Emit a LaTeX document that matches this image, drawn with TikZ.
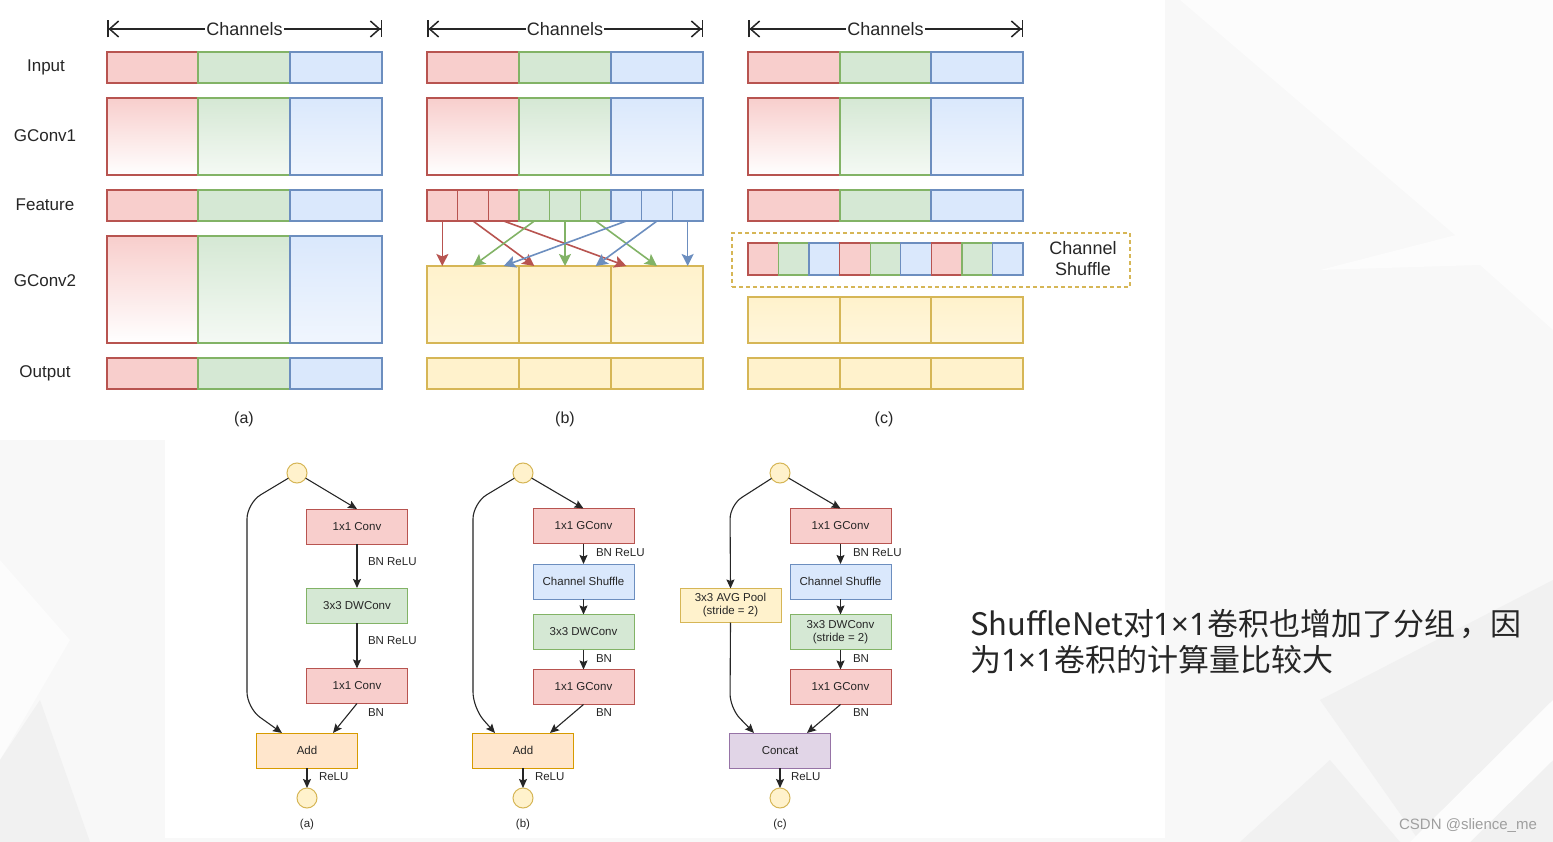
\documentclass[tikz,border=0pt]{standalone}
\usepackage{fontspec}
\setmainfont{Liberation Sans}
\newfontfamily\cjk{Noto Sans CJK SC}
\newfontfamily\lat{Noto Sans}
\usetikzlibrary{arrows.meta,calc}
\definecolor{rf}{HTML}{F8CECC}\definecolor{rs}{HTML}{B85450}
\definecolor{gf}{HTML}{D5E8D4}\definecolor{gs}{HTML}{82B366}
\definecolor{bf}{HTML}{DAE8FC}\definecolor{bs}{HTML}{6C8EBF}
\definecolor{yf}{HTML}{FFF2CC}\definecolor{ys}{HTML}{D6B656}
\definecolor{of}{HTML}{FFE6CC}\definecolor{os}{HTML}{D79B00}
\definecolor{pf}{HTML}{E1D5E7}\definecolor{ps}{HTML}{9673A6}
\definecolor{txt}{HTML}{262626}
\definecolor{bg0}{HTML}{F8F8F8}\definecolor{bgL}{HTML}{FCFCFC}\definecolor{bgD}{HTML}{F1F1F1}
\newcommand{\bx}[6]{\node[#6,anchor=north west,minimum width={(#4-#2)*1pt},minimum height={(#5-#3)*1pt}] (#1) at (#2,#3) {};}
\begin{document}
\begin{tikzpicture}[x=1pt,y=-1pt,
  every node/.style={inner sep=0pt,outer sep=0pt},
  cell/.style={line width=1.3pt},
  R/.style={cell,draw=rs,fill=rf},
  G/.style={cell,draw=gs,fill=gf},
  B/.style={cell,draw=bs,fill=bf},
  Y/.style={cell,draw=ys,fill=yf},
  RG/.style={cell,draw=rs,top color=rf,bottom color=white},
  GG/.style={cell,draw=gs,top color=gf,bottom color=gf!25},
  BG/.style={cell,draw=bs,top color=bf,bottom color=bf!40},
  YG/.style={cell,draw=ys,top color=yf,bottom color=yf!70},
  lab/.style={font=\fontsize{17}{20}\selectfont,text=txt},
  plab/.style={font=\fontsize{16}{19}\selectfont,text=txt},
  chlab/.style={font=\fontsize{18}{20}\selectfont,text=txt,fill=white,inner sep=1pt},
  chan/.style={line width=1.5pt,draw=txt},
  arR/.style={line width=1.6pt,draw=rs,-{Stealth[length=12pt,width=12pt,inset=2.5pt,fill=rs]}},
  arG/.style={line width=1.6pt,draw=gs,-{Stealth[length=12pt,width=12pt,inset=2.5pt,fill=gs]}},
  arB/.style={line width=1.6pt,draw=bs,-{Stealth[length=12pt,width=12pt,inset=2.5pt,fill=bs]}},
  bb/.style={draw,line width=1pt,minimum width=101pt,minimum height=35pt,font=\fontsize{11.5}{13}\selectfont,text=txt,align=center},
  circ/.style={circle,draw=ys,fill=yf,line width=1pt,minimum size=20pt},
  ar/.style={line width=1.1pt,draw=txt,-{Stealth[length=9pt,width=8pt,inset=1.5pt]}},
  small/.style={font=\fontsize{11.5}{13}\selectfont,text=txt,anchor=west},
  capt/.style={font=\fontsize{11.5}{13}\selectfont,text=txt}
]
% background
\useasboundingbox (0,0) rectangle (1553,842);
\fill[bg0] (0,0) rectangle (1553,842);
\fill[bgL] (1180,0) -- (1553,0) -- (1553,300) -- (1490,265) -- cycle;
\fill[bgL] (1320,270) -- (1553,210) -- (1553,330) -- (1480,265) -- cycle;
\fill[bgD] (1320,700) -- (1553,580) -- (1553,842) -- (1420,842) -- cycle;
\fill[bgL] (1410,842) -- (1553,700) -- (1553,760) -- (1470,842) -- cycle;
\fill[bgD] (1240,842) -- (1330,760) -- (1400,842) -- cycle;
\fill[bgL] (0,560) -- (70,640) -- (0,760) -- cycle;
\fill[bgD] (0,760) -- (40,700) -- (90,842) -- (0,842) -- cycle;
\fill[white] (0,0) rectangle (1165,440);
\fill[white] (165,440) rectangle (1165,838);

% ---------- top: channel arrows ----------
\foreach \n/\xa/\xb in {a/107/382,b/427/703,c/748/1023}{
  \coordinate (cl\n) at (\xa,29);
  \coordinate (cr\n) at (\xb,29);
  \draw[chan,{Bar[width=17pt]Straight Barb[length=9pt,width=16pt]}-{Straight Barb[length=9pt,width=16pt]Bar[width=17pt]}] (cl\n) -- node[chlab] (ch\n) {Channels} (cr\n);
}

% row labels
\node[lab] (lInput) at (46,67) {Input};
\node[lab] (lG1) at (45,136) {GConv1};
\node[lab] (lFeat) at (45,205) {Feature};
\node[lab] (lG2) at (45,281) {GConv2};
\node[lab] (lOut) at (45,373) {Output};

% ---------- panel (a) ----------
\bx{aI1}{107}{52}{198}{83}{R}\bx{aI2}{198}{52}{290}{83}{G}\bx{aI3}{290}{52}{382}{83}{B}
\bx{aC1}{107}{98}{198}{175}{RG}\bx{aC2}{198}{98}{290}{175}{GG}\bx{aC3}{290}{98}{382}{175}{BG}
\bx{aF1}{107}{190}{198}{221}{R}\bx{aF2}{198}{190}{290}{221}{G}\bx{aF3}{290}{190}{382}{221}{B}
\bx{aD1}{107}{236}{198}{343}{RG}\bx{aD2}{198}{236}{290}{343}{GG}\bx{aD3}{290}{236}{382}{343}{BG}
\bx{aO1}{107}{358}{198}{389}{R}\bx{aO2}{198}{358}{290}{389}{G}\bx{aO3}{290}{358}{382}{389}{B}
\node[plab] (capa) at (244,419) {(a)};

% ---------- panel (b) ----------
\bx{bI1}{427}{52}{519}{83}{R}\bx{bI2}{519}{52}{611}{83}{G}\bx{bI3}{611}{52}{703}{83}{B}
\bx{bC1}{427}{98}{519}{175}{RG}\bx{bC2}{519}{98}{611}{175}{GG}\bx{bC3}{611}{98}{703}{175}{BG}
\foreach \i/\s in {0/R,1/R,2/R,3/G,4/G,5/G,6/B,7/B,8/B}{
  \pgfmathsetmacro\xa{427+\i*30.667}\pgfmathsetmacro\xb{427+(\i+1)*30.667}
  \bx{fb\i}{\xa}{190}{\xb}{221}{\s}
}
\bx{bD1}{427}{266}{519}{343}{YG}\bx{bD2}{519}{266}{611}{343}{YG}\bx{bD3}{611}{266}{703}{343}{YG}
\bx{bO1}{427}{358}{519}{389}{Y}\bx{bO2}{519}{358}{611}{389}{Y}\bx{bO3}{611}{358}{703}{389}{Y}
\foreach \j in {0,...,8}{\coordinate (tb\j) at ({427+(\j+0.5)*30.667},266);}
\draw[arR] (fb0.south) -- (tb0);
\draw[arR] (fb1.south) -- (tb3);
\draw[arR] (fb2.south) -- (tb6);
\draw[arG] (fb3.south) -- (tb1);
\draw[arG] (fb4.south) -- (tb4);
\draw[arG] (fb5.south) -- (tb7);
\draw[arB] (fb6.south) -- (tb2);
\draw[arB] (fb7.south) -- (tb5);
\draw[arB] (fb8.south) -- (tb8);
\node[plab] (capb) at (565,419) {(b)};

% ---------- panel (c) ----------
\bx{cI1}{748}{52}{840}{83}{R}\bx{cI2}{840}{52}{931}{83}{G}\bx{cI3}{931}{52}{1023}{83}{B}
\bx{cC1}{748}{98}{840}{175}{RG}\bx{cC2}{840}{98}{931}{175}{GG}\bx{cC3}{931}{98}{1023}{175}{BG}
\bx{cF1}{748}{190}{840}{221}{R}\bx{cF2}{840}{190}{931}{221}{G}\bx{cF3}{931}{190}{1023}{221}{B}
\node[draw=ys,dash pattern=on 4pt off 3pt,line width=1.7pt,anchor=north west,minimum width=398pt,minimum height=54pt] (shbox) at (732,233) {};
\foreach \i/\s in {0/R,1/G,2/B,3/R,4/G,5/B,6/R,7/G,8/B}{
  \pgfmathsetmacro\xa{748+\i*30.556}\pgfmathsetmacro\xb{748+(\i+1)*30.556}
  \bx{sc\i}{\xa}{243}{\xb}{275}{\s}
}
\node[font=\fontsize{18}{21}\selectfont,text=txt,align=center] (shtxt) at (1083,259) {Channel\\Shuffle};
\bx{cD1}{748}{297}{840}{343}{YG}\bx{cD2}{840}{297}{931}{343}{YG}\bx{cD3}{931}{297}{1023}{343}{YG}
\bx{cO1}{748}{358}{840}{389}{Y}\bx{cO2}{840}{358}{931}{389}{Y}\bx{cO3}{931}{358}{1023}{389}{Y}
\node[plab] (capc) at (884,419) {(c)};

% ---------- bottom (a) ----------
\node[circ] (ta) at (297,473) {};
\node[bb,draw=rs,fill=rf] (a1) at (357,526.5) {1x1 Conv};
\node[bb,draw=gs,fill=gf] (a2) at (357,605.5) {3x3 DWConv};
\node[bb,draw=rs,fill=rf] (a3) at (357,686) {1x1 Conv};
\node[bb,draw=os,fill=of] (aadd) at (307,750.5) {Add};
\node[circ] (ba) at (307,798) {};
\draw[ar] (ta) -- (a1.north);
\draw[ar] (a1) -- (a2);
\draw[ar] (a2) -- (a3);
\draw[ar] (a3.south) -- ($(aadd.north)+(26,0)$);
\draw[ar,rounded corners=16pt] (ta) -- (247,503) -- (247,708) -- ($(aadd.north)+(-25,0)$);
\draw[ar] (aadd) -- (ba);
\node[small] (la1) at (368,562) {BN ReLU};
\node[small] (la2) at (368,641) {BN ReLU};
\node[small] (la3) at (368,713) {BN};
\node[small] (la4) at (319,777) {ReLU};
\node[capt] (cba) at (307,825) {(a)};

% ---------- bottom (b) ----------
\node[circ] (tb) at (523,473) {};
\node[bb,draw=rs,fill=rf] (b1) at (583.5,526) {1x1 GConv};
\node[bb,draw=bs,fill=bf] (b2) at (583.5,581.5) {Channel Shuffle};
\node[bb,draw=gs,fill=gf] (b3) at (583.5,632) {3x3 DWConv};
\node[bb,draw=rs,fill=rf] (b4) at (583.5,687) {1x1 GConv};
\node[bb,draw=os,fill=of] (badd) at (523,750.5) {Add};
\node[circ] (bbot) at (523,798) {};
\draw[ar] (tb) -- (b1.north);
\draw[ar] (b1) -- (b2);
\draw[ar] (b2) -- (b3);
\draw[ar] (b3) -- (b4);
\draw[ar] (b4.south) -- ($(badd.north)+(27,0)$);
\draw[ar,rounded corners=16pt] (tb) -- (473,503) -- (473,708) -- ($(badd.north)+(-28,0)$);
\draw[ar] (badd) -- (bbot);
\node[small] (lb1) at (596,553) {BN ReLU};
\node[small] (lb2) at (596,659) {BN};
\node[small] (lb3) at (596,713) {BN};
\node[small] (lb4) at (535,777) {ReLU};
\node[capt] (cbb) at (523,825) {(b)};

% ---------- bottom (c) ----------
\node[circ] (tc) at (780,473) {};
\node[bb,draw=rs,fill=rf] (c1) at (840.5,526) {1x1 GConv};
\node[bb,draw=bs,fill=bf] (c2) at (840.5,581.5) {Channel Shuffle};
\node[bb,draw=gs,fill=gf,font=\fontsize{11.5}{13}\selectfont] (c3) at (840.5,632) {3x3 DWConv\\(stride = 2)};
\node[bb,draw=rs,fill=rf] (c4) at (840.5,687) {1x1 GConv};
\node[bb,draw=ys,fill=yf,minimum height=34pt,font=\fontsize{11.5}{13}\selectfont] (pool) at (730.5,605.5) {3x3 AVG Pool\\(stride = 2)};
\node[bb,draw=ps,fill=pf] (cat) at (780,750.5) {Concat};
\node[circ] (bc) at (780,798) {};
\draw[ar] (tc) -- (c1.north);
\draw[ar] (c1) -- (c2);
\draw[ar] (c2) -- (c3);
\draw[ar] (c3) -- (c4);
\draw[ar] (c4.south) -- ($(cat.north)+(27,0)$);
\draw[ar,rounded corners=14pt] (tc) -- (730,505) -- (pool.north);
\draw[ar,rounded corners=14pt] (pool.south) -- (730,708) -- ($(cat.north)+(-26,0)$);
\draw[ar] (cat) -- (bc);
\node[small] (lc1) at (853,553) {BN ReLU};
\node[small] (lc2) at (853,659) {BN};
\node[small] (lc3) at (853,713) {BN};
\node[small] (lc4) at (791,777) {ReLU};
\node[capt] (cbc) at (780,825) {(c)};

% ---------- right text ----------
\node[anchor=west,font=\cjk\fontsize{31}{36}\selectfont,text=txt] (t1) at (970,624) {ShuffleNet对{\lat 1×1}卷积也增加了分组\kern0.15em，因};
\node[anchor=west,font=\cjk\fontsize{31}{36}\selectfont,text=txt] (t2) at (970,660) {为{\lat 1×1}卷积的计算量比较大};
\node[font=\fontsize{15}{17}\selectfont,text=gray!75] (wm) at (1468,826) {CSDN @slience\_me};
\end{tikzpicture}
\end{document}
